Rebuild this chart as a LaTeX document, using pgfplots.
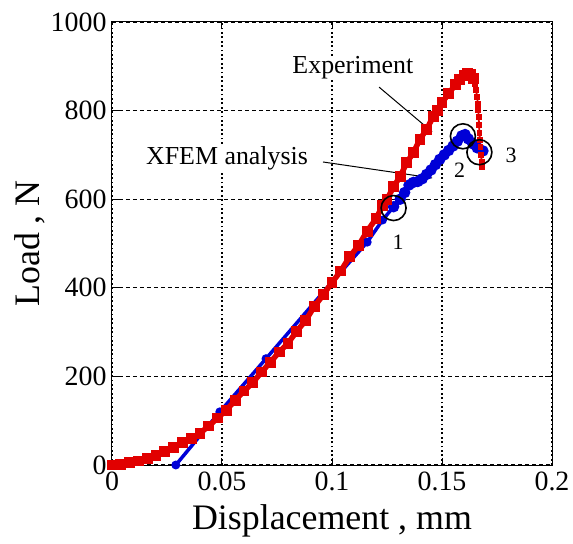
\documentclass[border=0pt]{standalone}
\usepackage{fontspec}
\setmainfont{Liberation Serif}
\usepackage{pgfplots}
\pgfplotsset{compat=1.18}

\definecolor{expred}{RGB}{225,0,0}
\definecolor{xfemblue}{RGB}{0,0,215}

\begin{document}
\begin{tikzpicture}
\begin{axis}[
  name=main,
  scale only axis, width=440bp, height=443bp,
  xmin=0, xmax=0.2, ymin=0, ymax=1000,
  xtick={0,0.05,0.1,0.15,0.2},
  xticklabels={0,0.05,0.1,0.15,0.2},
  ytick={0,200,400,600,800,1000},
  yticklabels={0,200,400,600,800,1000},
  /pgf/number format/assume math mode=true,
  tick align=inside, major tick length=7bp,
  tick style={black, line width=1bp},
  xmajorgrids, ymajorgrids,
  x grid style={black, line width=1.3bp, dash pattern=on 1.8bp off 2.6bp},
  y grid style={black, line width=1.1bp, dash pattern=on 4bp off 3bp},
  axis line style={black, line width=1bp},
  ticklabel style={font=\fontsize{28}{30}\selectfont},
  xticklabel style={yshift=-3bp},
  yticklabel style={xshift=-2bp},
  label style={font=\fontsize{36}{40}\selectfont},
  xlabel={Displacement , mm},
  ylabel={Load , N},
  xlabel style={yshift=-7bp},
  ylabel style={yshift=-1bp},
]

% XFEM analysis
\addplot[xfemblue, line width=3.5bp, mark=*, mark size=2.6bp] coordinates {
  (0.029,0) (0.049,120) (0.070,240) (0.100,413) (0.116,503) (0.123,553) (0.128,583)
};
\addplot[xfemblue, line width=5.5bp, mark=*, mark size=2.8bp] coordinates {
  (0.128,583) (0.131,600) (0.133,615) (0.135,632) (0.137,638) (0.139,640)
  (0.141,646) (0.143,656) (0.145,666) (0.147,678) (0.149,690) (0.151,700)
  (0.153,710) (0.155,720) (0.157,731) (0.159,743) (0.1605,746) (0.162,736)
  (0.164,725) (0.166,716) (0.1686,709)
};

% Experiment
\addplot[expred, line width=5.5bp, mark=square*, mark size=2.7bp] coordinates {
  (0,0) (0.004,2) (0.008,5) (0.012,9) (0.016,15) (0.020,22) (0.024,30)
  (0.028,40) (0.032,51) (0.036,60) (0.040,72) (0.044,88) (0.048,106)
  (0.052,124) (0.056,146) (0.060,167) (0.064,186) (0.068,210) (0.072,232)
  (0.076,255) (0.080,275) (0.084,302) (0.088,326) (0.092,358) (0.096,384)
  (0.100,412) (0.104,438) (0.108,470) (0.112,495) (0.116,528) (0.120,556)
  (0.123,585) (0.125,600) (0.128,628) (0.131,652) (0.134,682) (0.137,706)
  (0.140,735) (0.143,758) (0.146,786) (0.148,800) (0.150,818) (0.153,838)
  (0.156,858) (0.158,870) (0.160,880) (0.1615,884) (0.163,881) (0.1645,873)
};
\addplot[expred, line width=1.8bp, mark=square*, mark size=2bp] coordinates {
  (0.1645,873) (0.165,860) (0.1655,846) (0.166,830) (0.1663,815) (0.1665,801)
  (0.1667,785) (0.1668,768) (0.1670,750) (0.1672,733) (0.1675,718)
  (0.1678,700) (0.1680,685) (0.1681,673)
};

% marked stages
\addplot[black, only marks, mark=o, mark size=12.5bp, line width=1.6bp]
  coordinates {(0.128,580) (0.1595,742) (0.167,706)};

% annotations
\draw[black, line width=1bp] (axis cs:0.1214,853) -- (axis cs:0.1455,752);
\draw[black, line width=1bp] (axis cs:0.0959,684) -- (axis cs:0.1455,648);
\node[fill=white, inner sep=1bp, font=\fontsize{26}{28}\selectfont]
  at (axis cs:0.1095,896) {Experiment};
\node[fill=white, inner sep=1bp, font=\fontsize{26}{28}\selectfont]
  at (axis cs:0.0523,693) {XFEM analysis};
\node[font=\fontsize{22}{24}\selectfont] at (axis cs:0.130,503) {1};
\node[font=\fontsize{22}{24}\selectfont] at (axis cs:0.158,666) {2};
\node[font=\fontsize{22}{24}\selectfont] at (axis cs:0.1814,700) {3};
\end{axis}
\pgfresetboundingbox
\path[use as bounding box]
  ([xshift=-112bp,yshift=-79bp]main.south west)
  rectangle ([xshift=21bp,yshift=22bp]main.north east);
\end{tikzpicture}
\end{document}
